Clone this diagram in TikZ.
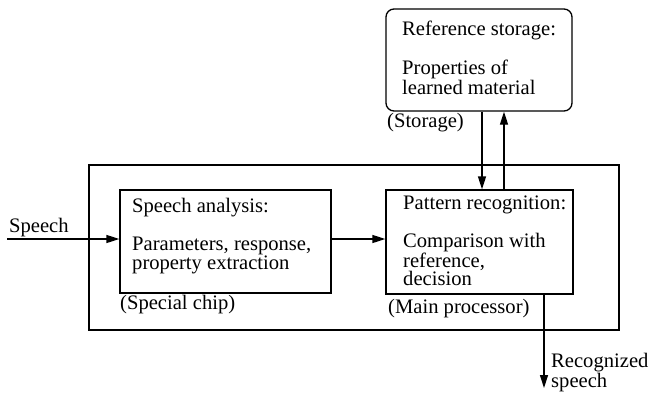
\documentclass[tikz,border=0pt]{standalone}
\usepackage{fontspec}
\setmainfont{Liberation Serif}
\usetikzlibrary{arrows.meta}
\begin{document}
\begin{tikzpicture}[x=1pt,y=-1pt,
  box/.style={draw,line width=1.3pt,rectangle,inner sep=0pt},
  fnt/.style={inner sep=0pt,align=left,font=\fontsize{20.6}{16.8}\selectfont},
  txt/.style={fnt,anchor=base west},
  mtxt/.style={fnt,anchor=north west},
  arr/.style={line width=1.3pt,-{Triangle[length=13pt,width=8pt]}}]
\useasboundingbox (0,0) rectangle (653,392);
% boxes
\node[box,rounded corners=8pt,minimum width=186pt,minimum height=102pt] (storage) at (479,60) {};
\node[box,minimum width=530pt,minimum height=165pt] (outer) at (354,247.5) {};
\node[box,minimum width=211pt,minimum height=103pt] (analysis) at (225.5,241.5) {};
\node[box,minimum width=187pt,minimum height=104pt] (pattern) at (479.5,242) {};
% texts (multi-line nodes placed by the top of their first line)
\node[txt] (s1) at (402,35) {Reference storage:};
\node[mtxt] (s2) at (402,60) {Properties of\\learned material};
\node[txt] (s4) at (387,127) {(Storage)};
\node[txt] (a1) at (132,212) {Speech analysis:};
\node[mtxt] (a2) at (132,236.5) {Parameters, response,\\property extraction};
\node[txt] (a4) at (120,309) {(Special chip)};
\node[txt] (p1) at (403,209) {Pattern recognition:};
\node[mtxt] (p2) at (403,233) {Comparison with\\reference,\\decision};
\node[txt] (p5) at (388,313) {(Main processor)};
\node[txt] (in) at (9,232) {Speech};
\node[mtxt] (o1) at (551,353) {Recognized\\speech};
% connectors
\coordinate (speechin) at (7,239);
\coordinate (dn) at (482,0);
\coordinate (up) at (504,0);
\coordinate (outend) at (544,388);
\draw[arr] (speechin) -- (speechin -| analysis.west);
\draw[arr] (analysis.east |- speechin) -- (pattern.west |- speechin);
\draw[arr] (storage.south -| dn) -- (pattern.north -| dn);
\draw[arr] (pattern.north -| up) -- (storage.south -| up);
\draw[arr] (pattern.south -| outend) -- (outend);
\end{tikzpicture}
\end{document}
